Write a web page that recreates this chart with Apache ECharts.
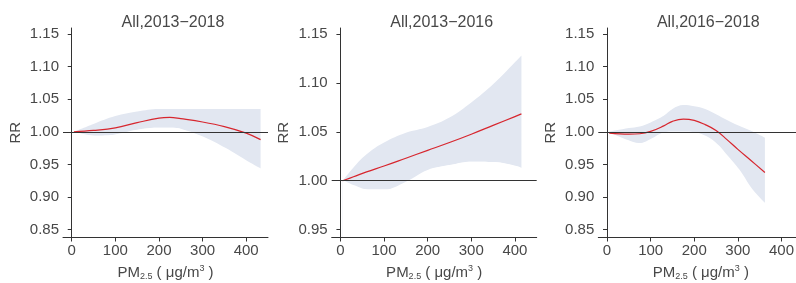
<!DOCTYPE html>
<html>
<head>
<meta charset="utf-8">
<script src="https://cdn.jsdelivr.net/npm/echarts@6/dist/echarts.min.js"></script>
<style>
  html, body { margin: 0; padding: 0; background: #fff; }
  #main { width: 796px; height: 283px; }
</style>
</head>
<body>
<div id="main"></div>
<script>
// PM2.5 exposure-response, three periods
const titles = ['All,2013\u22122018', 'All,2013\u22122016', 'All,2016\u22122018'];
const xTicks = [0, 100, 200, 300, 400];
const yTicksA = [0.85, 0.90, 0.95, 1.00, 1.05, 1.10, 1.15];
const yTicksB = [0.95, 1.00, 1.05, 1.10, 1.15];

// panel 1: 2013-2018
const pm1 = [5, 50, 100, 150, 200, 225, 250, 300, 350, 400, 433];
const rr1 = [1.000, 1.002, 1.006, 1.014, 1.021, 1.022, 1.020, 1.015, 1.008, 0.998, 0.988];
const lo1 = [1.000, 0.994, 0.996, 1.003, 1.006, 1.006, 1.004, 0.992, 0.975, 0.955, 0.943];
const hi1 = [1.000, 1.012, 1.024, 1.031, 1.035, 1.035, 1.035, 1.035, 1.035, 1.035, 1.035];

// panel 2: 2013-2016
const pm2 = [5, 30, 60, 100, 150, 200, 250, 300, 350, 400, 415];
const rr2 = [1.000, 1.004, 1.009, 1.015, 1.023, 1.031, 1.039, 1.0475, 1.0565, 1.0655, 1.0683];
const lo2 = [1.000, 0.995, 0.991, 0.991, 0.999, 1.011, 1.016, 1.0195, 1.019, 1.015, 1.0126];
const hi2 = [1.000, 1.0136, 1.027, 1.039, 1.049, 1.055, 1.0646, 1.080, 1.0985, 1.121, 1.128];

// panel 3: 2016-2018
const pm3 = [5, 50, 75, 100, 130, 150, 175, 200, 225, 250, 275, 300, 330, 362];
const rr3 = [0.998, 0.9964, 0.997, 1.0005, 1.009, 1.016, 1.0195, 1.0175, 1.011, 1.002, 0.988, 0.973, 0.956, 0.9376];
const lo3 = [0.998, 0.986, 0.9826, 0.989, 0.999, 1.000, 1.000, 0.999, 0.993, 0.981, 0.962, 0.942, 0.912, 0.889];
const hi3 = [1.000, 1.0056, 1.008, 1.0143, 1.0245, 1.035, 1.041, 1.039, 1.035, 1.027, 1.018, 1.010, 1.0015, 0.991];

const panels = [
  { pm: pm1, rr: rr1, lo: lo1, hi: hi1, yMin: 0.838, yMax: 1.159, yTicks: yTicksA, left: 63 },
  { pm: pm2, rr: rr2, lo: lo2, hi: hi2, yMin: 0.942, yMax: 1.156, yTicks: yTicksB, left: 331.7 },
  { pm: pm3, rr: rr3, lo: lo3, hi: hi3, yMin: 0.838, yMax: 1.159, yTicks: yTicksA, left: 598.3 }
];

const font = 'Liberation Sans';
const axisColor = '#333';
const textColor = '#484848';
const bandColor = '#e2e7f1';
const lineColor = '#d7262e';

let myChart = echarts.init(document.getElementById('main'));

const option = {
  animation: false,
  backgroundColor: '#fff',
  title: [],
  grid: [],
  xAxis: [],
  yAxis: [],
  series: []
};

panels.forEach((p, i) => {
  option.grid.push({ left: p.left, top: 28, width: 205, height: 209.5, outerBoundsMode: 'none', containLabel: false });
  option.title.push({
    text: titles[i],
    left: p.left + 105,
    top: 10,
    textAlign: 'center',
    textStyle: { fontFamily: font, fontSize: 16, fontWeight: 'normal', color: textColor }
  });
  option.xAxis.push({
    type: 'value',
    gridIndex: i,
    min: -20,
    max: 450,
    z: 10,
    splitLine: { show: false },
    axisLine: { lineStyle: { color: axisColor, width: 1 } },
    axisTick: { length: 4, customValues: xTicks, lineStyle: { color: axisColor } },
    axisLabel: { customValues: xTicks, fontFamily: font, fontSize: 15, color: textColor, margin: 6 },
    name: 'PM{sub|2.5} ( μg/m{sup|3} )',
    nameLocation: 'middle',
    nameGap: 27,
    nameTextStyle: {
      fontFamily: font, fontSize: 15, color: textColor,
      rich: {
        sub: { fontFamily: font, fontSize: 9, color: textColor, verticalAlign: 'bottom', padding: [8, 0, 0, 0] },
        sup: { fontFamily: font, fontSize: 9, color: textColor, verticalAlign: 'top', padding: [0, 0, 8, 0] }
      }
    }
  });
  option.yAxis.push({
    type: 'value',
    gridIndex: i,
    min: p.yMin,
    max: p.yMax,
    z: 10,
    splitLine: { show: false },
    axisLine: { show: true, lineStyle: { color: axisColor, width: 1 } },
    axisTick: { show: true, length: 4, customValues: p.yTicks, lineStyle: { color: axisColor } },
    axisLabel: {
      customValues: p.yTicks, fontFamily: font, fontSize: 15, color: textColor, margin: 4,
      formatter: v => v.toFixed(2)
    },
    name: 'RR',
    nameLocation: 'middle',
    nameGap: 40,
    nameTextStyle: { fontFamily: font, fontSize: 15, color: textColor }
  });

  // band: upper bound filled down to axis, lower bound masks it with white
  option.series.push({
    type: 'line',
    xAxisIndex: i, yAxisIndex: i,
    data: p.pm.map((x, k) => [x, p.hi[k]]),
    smooth: 0.4,
    symbol: 'none',
    lineStyle: { width: 0, opacity: 0 },
    areaStyle: { color: bandColor, opacity: 1, origin: 'start' },
    z: 1,
    silent: true
  });
  option.series.push({
    type: 'line',
    xAxisIndex: i, yAxisIndex: i,
    data: p.pm.map((x, k) => [x, p.lo[k]]),
    smooth: 0.4,
    symbol: 'none',
    lineStyle: { width: 0, opacity: 0 },
    areaStyle: { color: '#fff', opacity: 1, origin: 'start', shadowColor: '#fff', shadowOffsetX: 1.5 },
    z: 2,
    silent: true
  });
  option.series.push({
    type: 'line',
    xAxisIndex: i, yAxisIndex: i,
    data: p.pm.map((x, k) => [x, p.rr[k]]),
    smooth: 0.4,
    symbol: 'none',
    lineStyle: { color: lineColor, width: 1.2 },
    z: 4,
    markLine: {
      silent: true,
      symbol: 'none',
      label: { show: false },
      lineStyle: { color: axisColor, type: 'solid', width: 1 },
      data: [{ yAxis: 1 }]
    }
  });
});

myChart.setOption(option);
</script>
</body>
</html>
